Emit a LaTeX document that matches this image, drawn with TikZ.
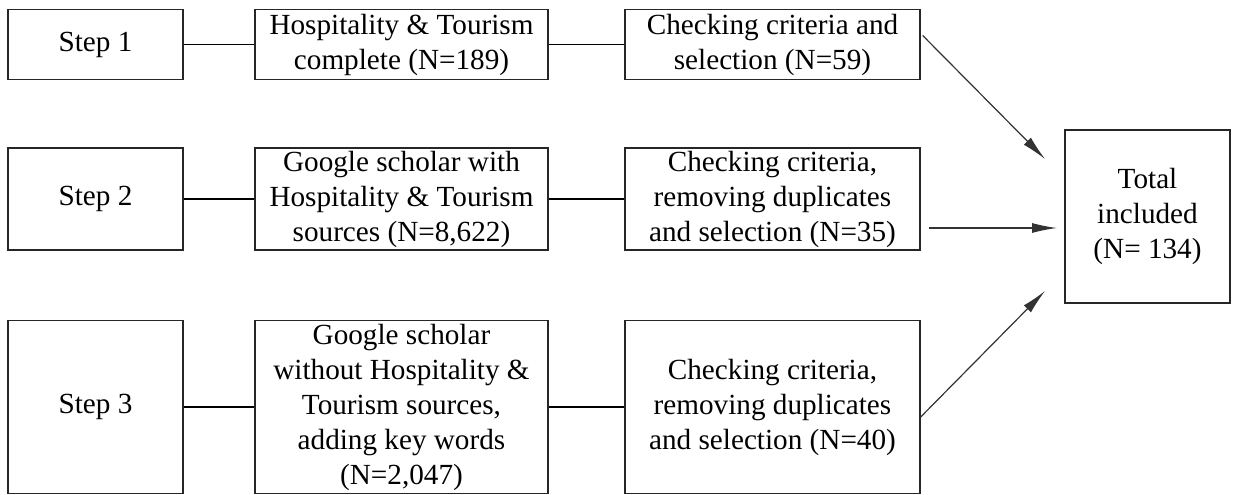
\documentclass[tikz,border=0pt]{standalone}
\usepackage{fontspec}
\setmainfont{Liberation Serif}
\usetikzlibrary{arrows.meta,calc}
\begin{document}
\begin{tikzpicture}[x=0.5pt,y=-0.5pt,
  box/.style={draw=black!85,line width=0.7pt,align=center,inner sep=0pt,
    font=\fontsize{14.6}{17.5}\selectfont},
  link/.style={line width=0.7pt},
  arr/.style={line width=0.6pt,draw=black!80,-{Latex[length=12.5pt,width=5pt]}}]
\useasboundingbox (0,0) rectangle (1239,494);
% row 1
\node[box,minimum width=175*0.5pt,minimum height=70*0.5pt] (s1) at (95.5,44.5) {Step 1};
\node[box,minimum width=293*0.5pt,minimum height=70*0.5pt] (h1) at (401.5,44.5) {Hospitality \& Tourism\\complete (N=189)};
\node[box,minimum width=295*0.5pt,minimum height=70*0.5pt] (c1) at (772.5,44.5) {Checking criteria and\\selection (N=59)};
% row 2
\node[box,minimum width=175*0.5pt,minimum height=102*0.5pt] (s2) at (95.5,199) {Step 2};
\node[box,minimum width=293*0.5pt,minimum height=102*0.5pt] (h2) at (401.5,199) {Google scholar with\\Hospitality \& Tourism\\sources (N=8,622)};
\node[box,minimum width=295*0.5pt,minimum height=102*0.5pt] (c2) at (772.5,199) {Checking criteria,\\removing duplicates\\and selection (N=35)};
% row 3
\node[box,minimum width=175*0.5pt,minimum height=173*0.5pt] (s3) at (95.5,407) {Step 3};
\node[box,minimum width=293*0.5pt,minimum height=173*0.5pt] (h3) at (401.5,407) {Google scholar\\without Hospitality \&\\Tourism sources,\\adding key words\\(N=2,047)};
\node[box,minimum width=295*0.5pt,minimum height=173*0.5pt] (c3) at (772.5,407) {Checking criteria,\\removing duplicates\\and selection (N=40)};
% total
\node[box,minimum width=165*0.5pt,minimum height=173*0.5pt] (tot) at (1147.5,216.5) {Total\\included\\(N= 134)};
% links
\draw[link] (s1) -- (h1);
\draw[link] (h1) -- (c1);
\draw[link] (s2) -- (h2);
\draw[link] (h2) -- (c2);
\draw[link] (s3) -- (h3);
\draw[link] (h3) -- (c3);
% arrows
\coordinate (a1) at ($(c1.east)+(2,-9)$);
\coordinate (e1) at (1045,159);
\coordinate (a2) at ($(c2.east)+(8,29)$);
\coordinate (e2) at (1057,228);
\coordinate (a3) at ($(c3.east)+(0,10)$);
\coordinate (e3) at (1045,291);
\draw[arr] (a1) -- (e1);
\draw[arr] (a2) -- (e2);
\draw[arr] (a3) -- (e3);
\end{tikzpicture}
\end{document}
